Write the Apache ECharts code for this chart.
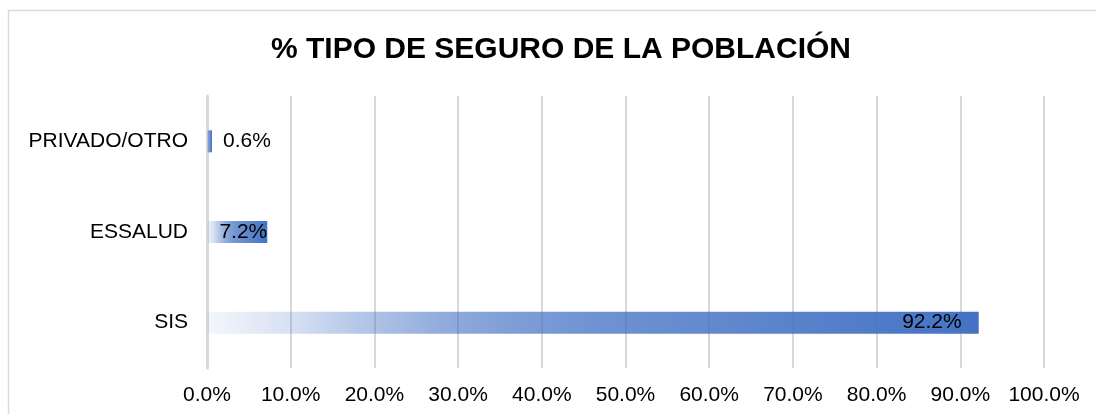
<!DOCTYPE html>
<html>
<head>
<meta charset="utf-8">
<script src="https://cdn.jsdelivr.net/npm/echarts@6/dist/echarts.min.js"></script>
<style>
  html, body { margin: 0; padding: 0; background: #fff; }
  #main { width: 1096px; height: 414px; }
</style>
</head>
<body>
<div id="main"></div>
<script>
// datos del grafico
var categorias = ['SIS', 'ESSALUD', 'PRIVADO/OTRO'];
var valores = [92.2, 7.2, 0.6];
var ejeMax = 100;
var ejeIntervalo = 10;

var myChart = echarts.init(document.getElementById('main'));

var degradado = new echarts.graphic.LinearGradient(0, 0, 1, 0, [
    {offset: 0, color: 'rgba(68,114,196,0.06)'},
    {offset: 0.1, color: 'rgba(68,114,196,0.2)'},
    {offset: 0.2, color: 'rgba(68,114,196,0.4)'},
    {offset: 0.3, color: 'rgba(68,114,196,0.58)'},
    {offset: 0.4, color: 'rgba(68,114,196,0.69)'},
    {offset: 0.5, color: 'rgba(68,114,196,0.77)'},
    {offset: 0.75, color: 'rgba(68,114,196,0.88)'},
    {offset: 1, color: 'rgba(68,114,196,1)'}
]);

// posicion de etiqueta de cada barra
var etiquetas = [
    {position: 'insideRight', distance: 17},
    {position: 'insideRight', distance: 0},
    {position: 'right', distance: 11}
];

var datos = valores.map(function (v, i) {
    return {value: v, label: etiquetas[i]};
});

option = {
    backgroundColor: '#ffffff',
    animation: false,
    textStyle: {fontFamily: 'Liberation Sans, Arial, sans-serif'},
    graphic: [{
        type: 'rect',
        shape: {x: 8.5, y: 10.5, width: 1200, height: 500},
        style: {fill: 'none', stroke: '#d9d9d9', lineWidth: 1.5},
        silent: true
    }],
    title: {
        text: '% TIPO DE SEGURO DE LA POBLACIÓN',
        left: 556,
        top: 30,
        textAlign: 'center',
        textStyle: {
            fontFamily: 'Liberation Sans, Arial, sans-serif',
            fontSize: 30,
            fontWeight: 'bold',
            color: '#000000'
        }
    },
    grid: {
        left: 207,
        right: 52,
        top: 96,
        bottom: 46,
        containLabel: false
    },
    xAxis: {
        type: 'value',
        min: 0,
        max: ejeMax,
        interval: ejeIntervalo,
        axisLine: {show: false},
        axisTick: {show: false},
        axisLabel: {
            margin: 17,
            fontSize: 21,
            color: '#000000',
            formatter: function (v) { return v.toFixed(1) + '%'; }
        },
        splitLine: {lineStyle: {color: '#cbcbcb', width: 1.5}}
    },
    yAxis: {
        type: 'category',
        data: categorias,
        axisTick: {show: false},
        axisLine: {lineStyle: {color: '#d9d9d9', width: 3}},
        axisLabel: {
            margin: 19,
            fontSize: 21,
            color: '#000000'
        }
    },
    series: [{
        type: 'bar',
        data: datos,
        barWidth: 22,
        itemStyle: {color: degradado},
        label: {
            show: true,
            fontSize: 21,
            color: '#000000',
            formatter: function (p) { return p.value.toFixed(1) + '%'; }
        }
    }]
};

myChart.setOption(option);
</script>
</body>
</html>
